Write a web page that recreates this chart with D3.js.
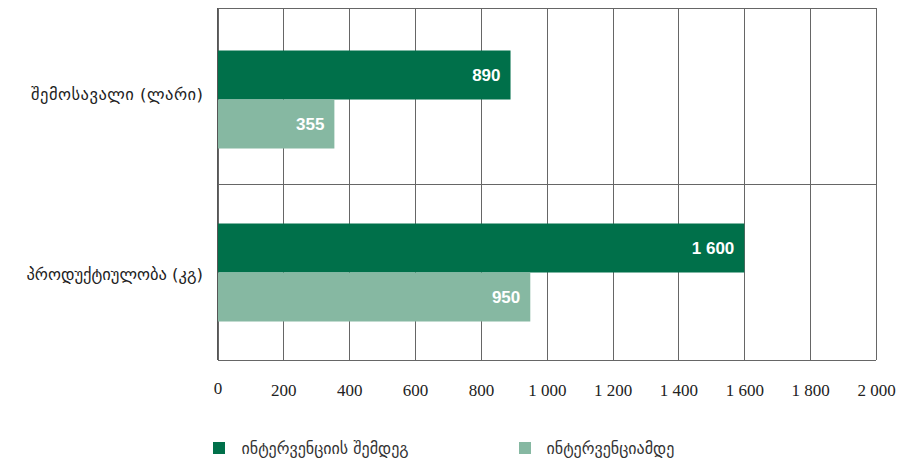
<!DOCTYPE html>
<html><head><meta charset="utf-8">
<script src="https://cdn.jsdelivr.net/npm/d3@7"></script>
<style>body{margin:0;background:#fff}svg{display:block}</style>
</head><body>
<svg id="c" width="899" height="462"></svg>
<script>
const categories = ["შემოსავალი (ლარი)", "პროდუქტიულობა (კგ)"];
const seriesNames = ["ინტერვენციის შემდეგ", "ინტერვენციამდე"];
const after = [890, 1600];
const before = [355, 950];
const tickValues = [0, 200, 400, 600, 800, 1000, 1200, 1400, 1600, 1800, 2000];
const tickLabels = ["0", "200", "400", "600", "800", "1 000", "1 200", "1 400", "1 600", "1 800", "2 000"];
const valueLabels = [["890", "1 600"], ["355", "950"]];
const colors = ["#00704a", "#86b8a2"];

const svg = d3.select("#c");
const pL = 217.5, pR = 876, pT = 8, pB = 360;
const x = d3.scaleLinear().domain([0, 2000]).range([pL, pR]);
const frame = d3.scaleBand().domain(categories).range([pT, pB]);
const y = d3.scaleBand().domain(categories).range([pT + 5, pB - 1]);
const sub = d3.scaleBand().domain([0, 1]).range([0, 98]);
const series = [after, before];
const georgian = "'DejaVu Sans', sans-serif";

// grid
const grid = svg.append("g").attr("stroke", "#666").attr("stroke-width", 1).attr("shape-rendering", "crispEdges");
grid.selectAll("line.v").data(tickValues).join("line")
  .attr("x1", d => Math.round(x(d)) + 0.5).attr("x2", d => Math.round(x(d)) + 0.5)
  .attr("y1", pT).attr("y2", pB);
[pT, frame(categories[1]), pB].forEach(v => grid.append("line").attr("x1", pL).attr("x2", pR).attr("y1", Math.round(v) + 0.5).attr("y2", Math.round(v) + 0.5));

// bars
series.forEach((s, si) => {
  const g = svg.append("g");
  g.selectAll("rect").data(categories).join("rect")
    .attr("x", x(0))
    .attr("y", (c) => y(c) + y.bandwidth() / 2 - 49 + sub(si))
    .attr("width", (c, i) => x(s[i]) - x(0))
    .attr("height", sub.bandwidth())
    .attr("fill", colors[si]);
  g.selectAll("text").data(categories).join("text")
    .attr("x", (c, i) => x(s[i]) - 10)
    .attr("y", (c) => y(c) + y.bandwidth() / 2 - 49 + sub(si) + sub.bandwidth() / 2)
    .attr("dy", "0.36em")
    .attr("text-anchor", "end")
    .attr("fill", "#fff")
    .attr("font-family", "'Liberation Sans', Arial, sans-serif")
    .attr("font-weight", "bold")
    .attr("font-size", 17)
    .text((c, i) => valueLabels[si][i]);
});

// left axis line
svg.append("line").attr("x1", pL).attr("x2", pL).attr("y1", pT).attr("y2", pB)
  .attr("stroke", "#555").attr("stroke-width", 1);

// category labels
svg.append("g").selectAll("text").data(categories).join("text")
  .attr("x", 203)
  .attr("y", (c, i) => frame(c) + frame.bandwidth() / 2 + (i === 0 ? -1 : 3))
  .attr("dy", "0.32em")
  .attr("text-anchor", "end")
  .attr("fill", "#222")
  .attr("font-family", georgian)
  .attr("font-size", 16.5)
  .attr("textLength", (c, i) => i === 0 ? 172 : null)
  .text(c => c);

// x axis labels
const xAxis = d3.axisBottom(x).tickValues(tickValues).tickSize(0).tickPadding(0)
  .tickFormat((d, i) => tickLabels[i]);
const ax = svg.append("g").attr("transform", `translate(0,${pB})`).call(xAxis);
ax.select(".domain").remove();
ax.selectAll("text")
  .attr("y", 0).attr("dy", 0)
  .attr("transform", d => `translate(0,${d === 0 ? 33.5 : 36})`)
  .attr("fill", "#222")
  .attr("font-family", "'Liberation Serif', 'Times New Roman', serif")
  .attr("font-size", 17);

// legend
const legX = [213, 519], legText = [241.5, 546.5];
const leg = svg.append("g");
seriesNames.forEach((n, i) => {
  leg.append("rect").attr("x", legX[i]).attr("y", 442).attr("width", 12).attr("height", 12).attr("fill", colors[i]);
  leg.append("text").attr("x", legText[i]).attr("y", 454)
    .attr("fill", "#333").attr("font-family", georgian).attr("font-size", 16).text(n);
});
</script>
</body></html>
